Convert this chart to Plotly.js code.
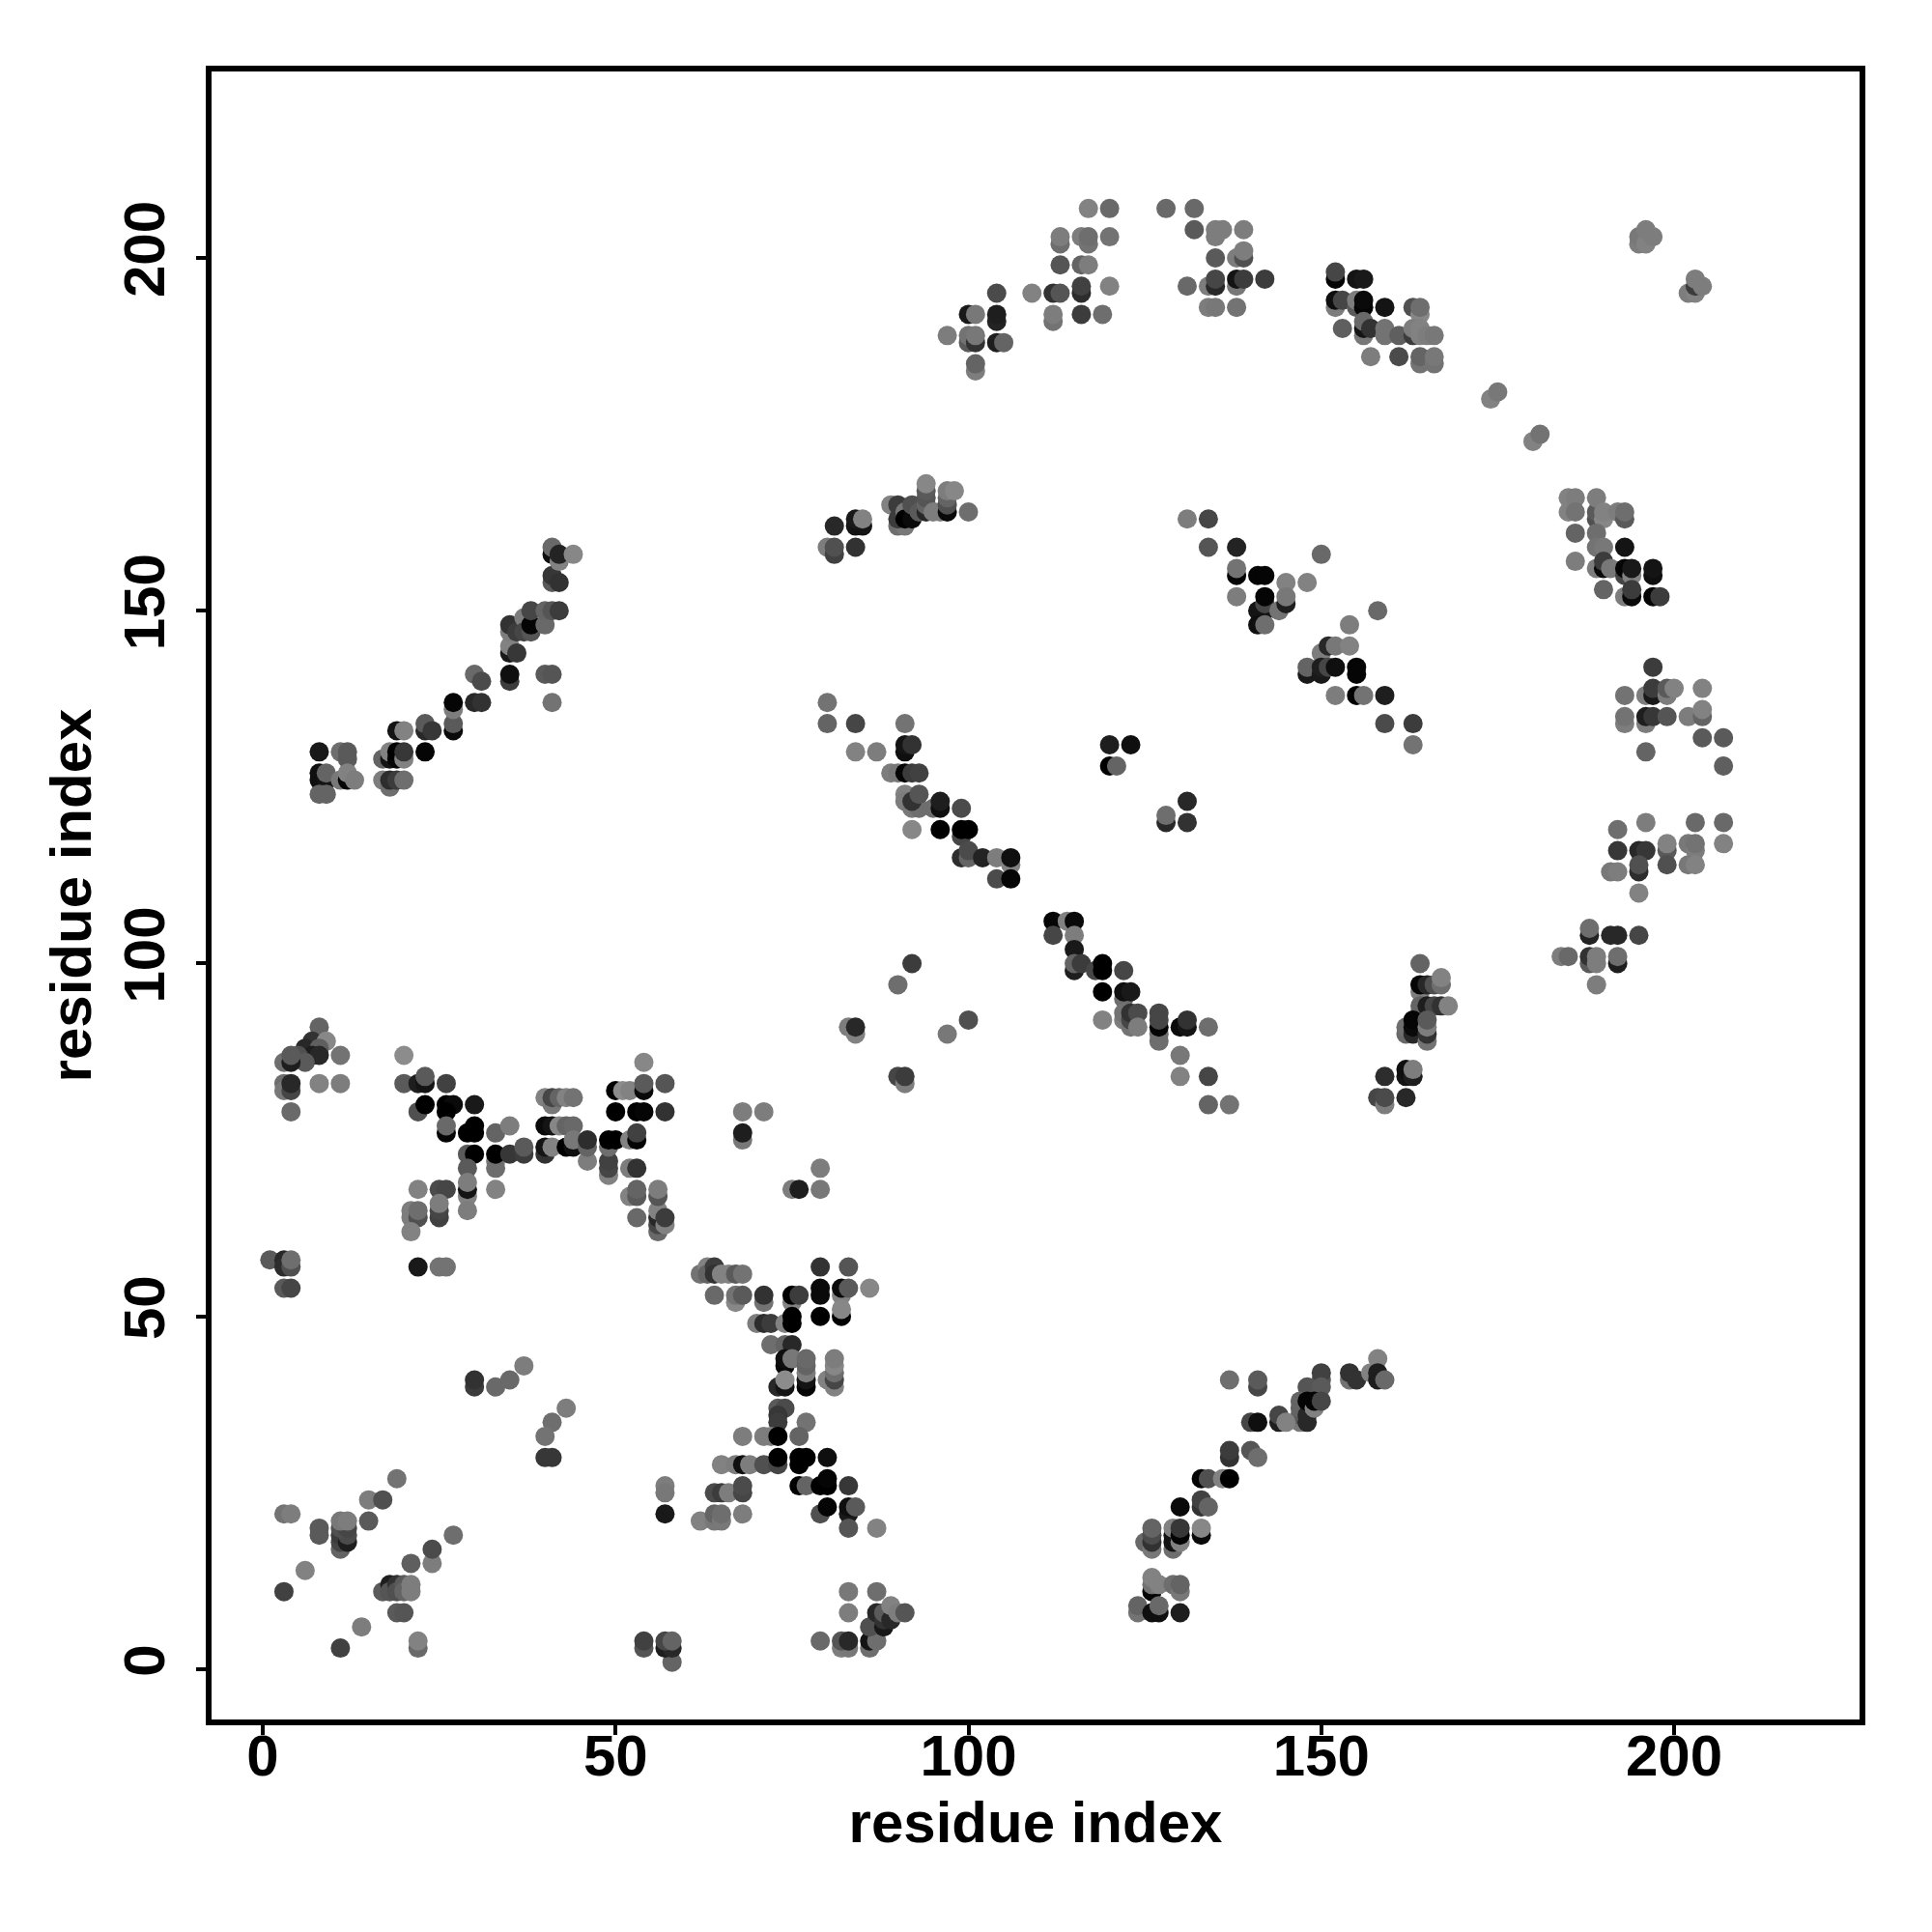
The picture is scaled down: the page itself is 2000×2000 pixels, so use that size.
<!DOCTYPE html>
<html>
<head>
<meta charset="utf-8">
<script src="https://cdn.plot.ly/plotly-3.0.1.min.js"></script>
<style>html,body{margin:0;padding:0;background:#fff}#chart{width:2000px;height:2000px}</style>
</head>
<body>
<div id="chart"></div>
<script>
// each contact: [residue i, residue j, grey level]
const nTermA = [[8,91,100],[7,89,50],[9,89,135],[6,88,40],[8,88,95],[7,87,30],[8,87,40],[11,87,115],[5,87,80],[6,86,90],[3,86,110],[4,86,30],[4,87,90],[3,83,110],[3,82,120],[4,82,70],[4,83,40],[8,83,130],[11,83,125],[4,79,105],[1,58,90],[3,58,40],[3,57,45],[4,57,80],[4,58,110],[3,54,90],[4,54,70],[22,57,25],[25,57,115],[26,57,115]];
const helixA = [[20,87,140],[20,83,90],[22,83,30],[23,83,20],[23,84,90],[26,83,65],[22,79,80],[23,80,0],[26,80,0],[27,80,10],[30,80,25],[26,79,0],[26,76,5],[26,77,105],[29,76,0],[30,77,0],[30,76,0],[33,76,100],[35,77,125],[29,73,90],[30,73,0],[33,72,120],[33,71,110],[33,73,0],[35,73,55],[37,73,60],[37,74,90],[29,71,90],[29,67,130],[29,68,20],[29,69,125],[29,65,125],[33,68,130],[22,68,130],[25,68,75],[26,68,70],[25,64,65],[25,65,70],[25,66,125],[21,65,125],[21,64,125],[22,64,80],[22,65,110],[21,62,130]];
const helixB = [[40,81,130],[41,80,120],[41,81,70],[42,81,100],[43,81,130],[44,81,115],[40,77,10],[41,77,20],[42,77,135],[43,77,100],[44,77,105],[40,73,50],[40,74,20],[41,74,130],[43,74,0],[44,74,15],[44,75,120],[46,72,125],[46,74,100],[46,75,45],[49,70,130],[49,71,70],[49,72,65],[49,74,110],[49,75,0],[50,75,0],[50,82,0],[51,82,140],[52,82,130],[54,86,135],[54,82,10],[54,83,90],[57,83,85],[50,79,0],[53,79,0],[54,79,5],[57,79,50],[52,75,130],[53,75,5],[53,76,65],[52,71,125],[53,71,50],[52,67,130],[53,67,90],[53,68,100],[53,64,105],[56,62,105],[56,63,70],[56,64,40],[56,65,130],[56,67,85],[56,68,125],[57,63,130],[57,64,60]];
const loopA = [[62,56,115],[63,57,130],[63,56,100],[64,57,60],[64,56,50],[65,56,130],[66,56,130],[67,56,90],[68,56,115],[64,53,105],[67,52,135],[67,53,115],[68,53,90],[71,52,115],[71,53,50],[75,52,130],[75,53,0],[76,53,60],[79,57,50],[79,53,10],[79,54,10],[79,50,0],[83,57,85],[82,53,130],[82,54,10],[83,54,90],[86,54,135],[82,50,0],[82,51,135],[70,49,125],[71,49,45],[72,49,60],[74,49,130],[75,50,0],[75,49,0],[72,46,110],[74,46,100],[75,46,40],[74,43,10],[74,44,15],[75,44,120],[77,40,5],[77,41,20],[77,42,125],[77,43,100],[77,44,105],[81,40,130],[80,41,130],[81,41,70],[81,42,110],[81,43,135],[81,44,125],[73,40,40],[74,40,20],[74,41,140]];
const loopB = [[73,37,90],[74,37,75],[73,36,55],[73,35,60],[77,35,115],[68,33,125],[71,33,125],[72,33,125],[73,33,0],[76,33,100],[65,29,130],[67,29,125],[68,29,15],[69,29,125],[71,29,80],[73,29,70],[73,30,0],[76,29,0],[76,30,0],[77,30,0],[80,30,15],[64,25,75],[65,25,60],[66,25,125],[68,25,70],[68,26,75],[76,26,0],[77,26,100],[79,26,0],[80,26,0],[80,27,5],[83,26,55],[79,22,80],[80,23,5],[83,22,25],[83,23,15],[84,23,90],[83,20,85],[87,20,130],[62,21,130],[64,21,120],[64,22,100],[65,21,120],[65,22,110],[68,22,125],[57,26,125],[57,25,120],[57,22,25]];
const lowerFew = [[83,11,120],[87,11,110],[83,8,125],[79,4,105],[82,3,125],[83,3,120],[82,4,85],[83,4,40],[86,3,110],[86,4,20],[87,4,110],[86,6,80],[87,7,80],[87,8,40],[88,6,25],[88,7,50],[88,8,90],[89,7,40],[89,9,130],[90,8,125],[91,8,85],[58,1,100],[54,3,85],[54,4,65],[57,3,30],[58,3,40],[57,4,70],[58,4,100]];
const lowerLeft = [[30,40,60],[30,41,50],[33,40,105],[35,41,105],[37,43,125],[43,37,125],[41,35,110],[40,33,115],[40,30,55],[41,30,55],[19,27,115],[15,24,125],[17,24,80],[15,21,90],[3,22,115],[4,22,125],[8,19,90],[8,20,90],[11,17,100],[11,18,70],[11,19,60],[12,18,30],[12,19,75],[11,20,80],[12,20,70],[11,21,120],[12,21,125],[6,14,130],[3,11,65],[27,19,110],[24,15,125],[24,17,75],[21,15,95],[17,11,90],[18,12,30],[18,11,85],[19,12,50],[19,11,80],[20,12,90],[20,11,100],[21,12,125],[21,11,125],[19,8,90],[20,8,85],[14,6,125],[11,3,65],[22,3,105],[22,4,130]];
const strandUp = [[8,130,25],[11,130,110],[12,129,90],[12,130,90],[8,126,15],[8,127,15],[9,126,20],[9,127,100],[8,124,100],[9,124,100],[11,126,120],[12,126,5],[12,127,130],[13,126,125],[17,129,100],[18,129,20],[18,130,130],[19,129,5],[19,130,0],[20,129,130],[20,130,55],[19,133,20],[20,133,130],[23,130,5],[17,126,125],[18,125,110],[18,126,45],[19,126,60],[20,126,110],[23,133,40],[23,134,90],[24,133,55],[27,133,10],[27,134,90],[27,136,125],[27,137,5],[30,137,40],[31,137,50],[30,141,105],[31,140,75],[35,140,60],[35,141,15],[40,141,90],[41,141,85],[41,137,115],[35,144,25],[35,145,130],[36,144,55],[35,147,125],[35,148,50],[36,147,60],[37,149,125],[37,147,70],[38,147,85],[38,148,5],[38,150,70],[40,148,105],[40,150,100],[41,150,85],[42,150,60],[41,154,90],[41,155,55],[42,154,50],[41,158,15],[41,159,105],[42,157,130],[42,158,35],[44,158,135]];
const strandTop = [[80,159,125],[81,158,65],[81,159,80],[84,159,50],[81,162,40],[84,162,20],[85,162,20],[84,163,25],[85,163,130],[90,162,110],[91,162,120],[89,165,130],[90,163,60],[90,165,60],[91,164,120],[91,163,0],[92,163,10],[92,165,80],[93,164,90],[94,164,40],[94,165,100],[94,166,85],[94,167,90],[94,168,135],[95,164,125],[96,164,125],[97,164,10],[97,165,80],[97,166,100],[97,167,125],[98,167,135],[100,164,110]];
const diagA = [[80,137,115],[80,134,100],[84,134,70],[91,134,115],[84,130,130],[87,130,125],[91,130,15],[91,131,20],[92,131,50],[89,127,125],[90,127,120],[91,127,5],[92,127,60],[93,127,65],[91,124,130],[91,123,125],[92,122,120],[93,122,110],[92,123,50],[93,124,85],[95,122,110],[96,122,15],[96,123,30],[99,122,75],[92,119,135],[96,119,0],[99,118,70],[99,119,0],[100,119,0],[99,115,45],[100,115,100],[100,116,75],[102,115,35],[104,115,125],[106,114,130],[106,115,15],[104,112,75],[106,112,5],[120,131,30],[123,131,15],[120,128,0],[121,128,100],[128,120,40],[128,121,110],[131,123,40],[131,120,50]];
const diagB = [[112,106,5],[114,106,130],[115,106,10],[112,104,70],[115,104,125],[115,102,25],[115,99,30],[115,100,100],[116,100,60],[118,99,70],[119,99,0],[119,100,0],[122,99,70],[119,96,0],[122,95,110],[122,96,15],[123,96,25],[119,92,130],[122,92,125],[122,93,115],[123,91,115],[123,92,70],[123,93,50],[124,93,75],[124,91,125],[127,89,110],[127,90,110],[127,91,5],[127,92,70],[127,93,70],[130,91,10],[131,91,20],[131,92,50],[134,91,110],[130,87,120],[130,84,130],[134,84,70],[134,80,100],[137,80,115]];
const topArcA = [[117,207,130],[120,207,105],[128,207,105],[132,207,105],[113,202,110],[113,203,125],[116,203,125],[117,202,115],[117,203,110],[120,203,115],[132,204,90],[135,203,125],[135,204,125],[136,204,125],[139,204,125],[113,199,85],[116,199,100],[117,199,125],[135,200,90],[138,200,125],[139,200,80],[139,201,125],[104,195,75],[109,195,130],[112,195,50],[113,195,85],[116,195,45],[116,196,65],[120,196,130],[131,196,105],[134,196,125],[135,196,40],[135,197,70],[138,196,120],[138,197,20],[139,197,60],[142,197,60],[134,193,125],[135,193,120],[138,193,115],[112,191,115],[112,192,125],[116,192,60],[119,192,110],[100,192,25],[101,192,120],[104,191,35],[104,192,30],[100,188,90],[100,189,115],[101,188,50],[101,189,120],[97,189,125],[104,188,30],[105,188,100],[101,184,125],[101,185,100]];
const topArcB = [[152,197,5],[152,198,70],[155,197,20],[156,197,25],[152,193,125],[152,194,15],[153,194,70],[155,193,90],[155,194,125],[156,193,5],[156,194,10],[159,193,20],[163,193,80],[164,192,135],[164,193,110],[153,190,95],[156,189,120],[156,190,20],[156,191,105],[157,190,50],[159,189,115],[159,190,115],[161,189,95],[163,189,60],[163,190,125],[164,189,130],[164,190,130],[165,189,125],[166,189,120],[157,186,125],[161,186,75],[164,185,115],[164,186,100],[166,185,115],[166,186,120],[174,180,130],[175,181,120],[180,174,130],[181,175,115],[195,202,125],[195,203,120],[196,202,130],[196,204,125],[197,203,125],[202,195,125],[203,195,130],[203,196,60],[203,197,125],[204,196,125]];
const rightArcA = [[185,164,130],[185,166,130],[186,166,125],[186,164,115],[186,161,100],[186,157,125],[189,163,80],[189,164,90],[189,166,125],[190,163,135],[190,164,130],[192,164,125],[193,163,90],[193,164,110],[189,161,110],[189,159,115],[190,159,120],[193,159,20],[189,156,125],[190,156,10],[190,157,60],[191,156,120],[193,155,70],[193,156,5],[194,155,130],[194,156,25],[197,155,15],[197,156,20],[190,153,100],[193,152,125],[194,152,10],[194,153,60],[197,152,5],[198,152,60]];
const midArc = [[131,163,125],[134,163,70],[134,159,85],[138,159,35],[138,155,5],[138,156,115],[141,155,5],[142,155,5],[138,152,125],[145,154,130],[148,154,130],[150,158,105],[141,150,20],[142,150,20],[142,151,70],[142,152,5],[144,150,115],[145,151,30],[145,152,120],[141,148,15],[142,148,110],[154,148,125],[158,150,105],[150,144,125],[151,145,40],[152,145,120],[154,145,130],[148,141,25],[148,142,100],[150,141,25],[150,142,30],[151,142,70],[152,142,15],[155,141,5],[155,142,5],[152,138,125],[155,138,0],[156,138,115],[159,138,30],[159,134,75],[163,134,60],[163,131,115]];
const rightArcB = [[197,142,60],[193,138,115],[196,138,125],[197,138,25],[197,139,60],[199,138,125],[199,139,90],[200,139,130],[204,139,130],[193,134,125],[193,135,115],[196,134,125],[196,135,30],[197,135,55],[199,135,85],[202,135,125],[204,135,100],[204,136,130],[204,132,90],[207,132,90],[207,128,95],[196,130,100],[196,120,125],[203,120,105],[207,120,105],[192,119,110],[192,116,55],[195,116,40],[196,116,55],[199,116,90],[199,117,130],[202,117,120],[203,116,125],[203,117,115],[207,117,130],[191,113,120],[192,113,125],[195,113,45],[195,114,80],[199,114,80],[202,114,120],[203,114,130],[195,110,130],[188,104,35],[188,105,110],[191,104,40],[192,104,40],[195,104,70],[184,101,125],[185,101,105],[188,100,90],[188,101,50],[189,100,125],[189,101,125],[192,100,30],[192,101,110],[189,97,125]];
const midLower = [[164,100,100],[164,96,125],[164,97,5],[165,97,40],[166,97,80],[167,97,110],[167,98,130],[164,93,100],[164,94,100],[165,94,30],[166,94,70],[167,94,50],[168,94,130],[162,90,105],[162,91,110],[163,90,40],[163,91,10],[163,92,5],[165,89,115],[165,90,50],[165,91,125],[165,92,90],[159,84,45],[162,84,20],[162,85,15],[163,84,30],[163,85,125],[158,81,70],[159,80,125],[159,81,75],[162,81,40]];
const lowerArc = [[158,44,130],[150,41,85],[150,42,65],[154,41,115],[154,42,50],[155,41,50],[157,42,130],[158,41,30],[158,42,30],[159,41,105],[137,41,110],[141,40,70],[141,41,90],[148,40,85],[150,40,90],[147,35,120],[147,36,90],[147,37,100],[147,38,100],[148,35,40],[148,36,40],[148,38,5],[149,37,130],[149,38,5],[150,38,70],[140,35,70],[141,35,15],[144,35,30],[144,36,70],[145,35,130],[137,30,50],[137,31,60],[140,31,85],[141,30,110],[133,27,5],[134,27,80],[136,27,130],[137,27,0],[130,23,10],[133,23,50],[133,24,65],[134,23,100],[125,18,105],[126,17,120],[126,18,50],[126,19,75],[126,20,100],[129,17,110],[129,18,20],[129,19,20],[129,20,130],[130,18,130],[130,19,5],[130,20,55],[133,19,10],[133,20,135],[126,11,5],[126,12,115],[126,13,130],[127,12,130],[129,12,110],[130,11,120],[130,12,100],[124,8,115],[124,9,100],[126,8,15],[127,8,15],[127,9,105],[130,8,30]];
const isolated = [[83,91,125],[84,90,130],[84,91,40],[90,97,110],[92,100,60],[97,90,120],[100,92,80],[90,84,70],[91,83,125],[91,84,60],[68,75,120],[68,76,30],[68,79,125],[71,79,125],[75,68,125],[76,68,30],[79,71,125],[79,68,120]];

const groups = [nTermA, helixA, helixB, loopA, loopB, lowerFew, lowerLeft, strandUp, strandTop, diagA, diagB, topArcA, topArcB, rightArcA, midArc, rightArcB, midLower, lowerArc, isolated];
const contacts = groups.flat();
const tickValues = [0, 50, 100, 150, 200];
const axisLabel = 'residue index';
const fontFamily = '"Liberation Sans", Arial, sans-serif';

function axis(extra) {
  return Object.assign({
    tickvals: tickValues, ticktext: tickValues.map(String), automargin: true,
    ticks: 'outside', ticklen: 10, tickwidth: 4, tickcolor: '#000',
    showgrid: false, zeroline: false, showline: true, linecolor: '#000', linewidth: 6, mirror: true,
    tickfont: {family: fontFamily, size: 60, color: '#000', weight: 700}
  }, extra);
}

Plotly.newPlot('chart', [{
  type: 'scatter', mode: 'markers',
  x: contacts.map(c => c[0]), y: contacts.map(c => c[1]),
  marker: {size: 20, line: {width: 0}, color: contacts.map(c => `rgb(${c[2]},${c[2]},${c[2]})`)},
  hoverinfo: 'skip', showlegend: false
}], {
  width: 2000, height: 2000, autosize: false,
  paper_bgcolor: '#fff', plot_bgcolor: '#fff',
  margin: {l: 219, r: 75, t: 74, b: 220, pad: 0},
  xaxis: axis({range: [-7.26, 226.28], tickangle: 0, ticklabelstandoff: -30,
    title: {text: '<b>' + axisLabel + '</b>', font: {family: fontFamily, size: 60, color: '#000'}, standoff: 17}}),
  yaxis: axis({range: [-7.12, 226.42], tickangle: -90, ticklabelstandoff: 9,
    title: {text: '<b>' + axisLabel + '</b>', font: {family: fontFamily, size: 60, color: '#000'}, standoff: 4}})
}, {displayModeBar: false, staticPlot: true});
</script>
</body>
</html>
